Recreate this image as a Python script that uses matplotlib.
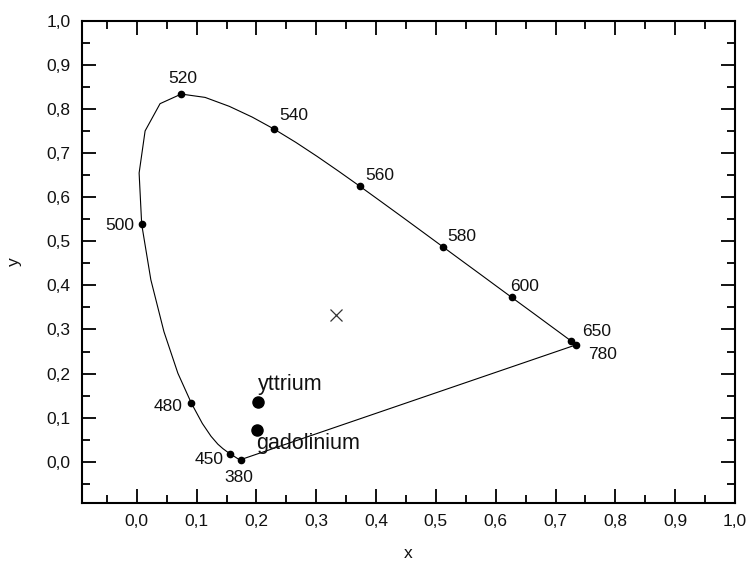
import matplotlib
matplotlib.use('Agg')
import matplotlib.pyplot as plt
from matplotlib.ticker import MultipleLocator, FuncFormatter

plt.rcParams['font.family'] = ['Liberation Sans', 'DejaVu Sans']

# spectral locus (CIE 1931 chromaticity), wavelength in nm
locus_nm = [380, 390, 400, 410, 420, 430, 440, 450, 455, 460, 465, 470, 475, 480,
            485, 490, 495, 500, 505, 510, 515, 520, 525, 530, 535, 540, 545, 550,
            555, 560, 565, 570, 575, 580, 585, 590, 595, 600, 610, 620, 630, 640,
            650, 780]
locus_x = [0.1741, 0.1738, 0.1733, 0.1726, 0.1714, 0.1689, 0.1644, 0.1566, 0.1510,
           0.1440, 0.1355, 0.1241, 0.1096, 0.0913, 0.0687, 0.0454, 0.0235, 0.0082,
           0.0039, 0.0139, 0.0389, 0.0743, 0.1142, 0.1547, 0.1929, 0.2296, 0.2658,
           0.3016, 0.3373, 0.3731, 0.4087, 0.4441, 0.4788, 0.5125, 0.5448, 0.5752,
           0.6029, 0.6270, 0.6658, 0.6915, 0.7079, 0.7190, 0.7260, 0.7347]
locus_y = [0.0050, 0.0049, 0.0048, 0.0048, 0.0051, 0.0069, 0.0109, 0.0177, 0.0227,
           0.0297, 0.0399, 0.0578, 0.0868, 0.1327, 0.2007, 0.2950, 0.4127, 0.5384,
           0.6548, 0.7502, 0.8120, 0.8338, 0.8262, 0.8059, 0.7816, 0.7543, 0.7243,
           0.6923, 0.6589, 0.6245, 0.5896, 0.5547, 0.5202, 0.4866, 0.4544, 0.4242,
           0.3965, 0.3725, 0.3340, 0.3083, 0.2920, 0.2809, 0.2740, 0.2653]

# labelled wavelengths and where their labels sit
marked_nm = [380, 450, 480, 500, 520, 540, 560, 580, 600, 650, 780]
label_x = [0.171, 0.121, 0.052, -0.028, 0.077, 0.262, 0.407, 0.543, 0.649, 0.768, 0.778]
label_y = [-0.036, 0.005, 0.125, 0.536, 0.870, 0.786, 0.648, 0.511, 0.398, 0.295, 0.243]

# samples
samples = ['yttrium', 'gadolinium']
sample_x = [0.202, 0.201]
sample_y = [0.135, 0.072]
sample_lx = [0.203, 0.200]
sample_ly = [0.175, 0.041]

white_x, white_y = 0.333, 0.333

fig = plt.figure(figsize=(7.5, 5.61), dpi=100)
ax = fig.add_axes([0.109, 0.103, 0.871, 0.860])

# closed locus incl. purple line
ax.plot(locus_x + [locus_x[0]], locus_y + [locus_y[0]], color='black', lw=0.8)

for nm, lx, ly in zip(marked_nm, label_x, label_y):
    i = locus_nm.index(nm)
    ax.plot(locus_x[i], locus_y[i], 'o', color='black', ms=4.5)
    ax.text(lx, ly, str(nm), ha='center', va='center', fontsize=12.5, color='#111111')

ax.plot(white_x, white_y, 'x', color='#333333', ms=9, mew=0.9)

for name, sx, sy, lx, ly in zip(samples, sample_x, sample_y, sample_lx, sample_ly):
    ax.plot(sx, sy, 'o', color='black', ms=8)
    ax.text(lx, ly, name, ha='left', va='center', fontsize=15.5, color='#111111')

ax.set_xlim(-0.092, 1.0)
ax.set_ylim(-0.094, 1.0)
ax.xaxis.set_major_locator(MultipleLocator(0.1))
ax.xaxis.set_minor_locator(MultipleLocator(0.05))
ax.yaxis.set_major_locator(MultipleLocator(0.1))
ax.yaxis.set_minor_locator(MultipleLocator(0.05))
comma = FuncFormatter(lambda v, p: f'{v:.1f}'.replace('.', ','))
ax.xaxis.set_major_formatter(comma)
ax.yaxis.set_major_formatter(comma)
ax.tick_params(which='both', direction='in', top=True, right=True, labelsize=12.5,
               width=1.3, labelcolor='#111111')
ax.tick_params(which='major', length=10, pad=8)
ax.tick_params(which='minor', length=5.5)
for s in ax.spines.values():
    s.set_linewidth(1.5)

ax.set_xlabel('x', fontsize=12.5, labelpad=12, color='#111111')
ax.set_ylabel('y', fontsize=12.5, labelpad=18, color='#111111')

fig.savefig('out.png', dpi=100)
